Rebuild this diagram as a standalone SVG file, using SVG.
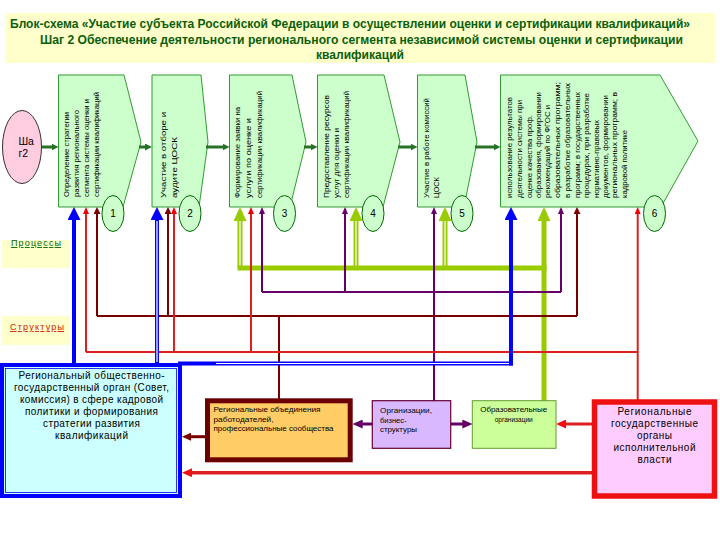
<svg xmlns="http://www.w3.org/2000/svg" width="720" height="540" viewBox="0 0 720 540">
<style>
.sans{font-family:"Liberation Sans",Arial,sans-serif}
.chev{fill:#ccffcc;stroke:#339933;stroke-width:1}
.num{fill:#ccffcc;stroke:#006600;stroke-width:1}
.numt{font-family:"Liberation Sans",Arial,sans-serif;font-size:10px;fill:#000;text-anchor:middle}
.vt{font-family:"Liberation Sans",Arial,sans-serif;font-size:7px;fill:#000}
.title{font-family:"Liberation Sans",Arial,sans-serif;font-size:12.5px;font-weight:bold;fill:#0b5e0b}
.bt{font-family:"Liberation Sans",Arial,sans-serif;font-size:10px;fill:#000;text-anchor:middle}
.st{font-family:"Liberation Sans",Arial,sans-serif;font-size:7.5px;fill:#000}
.ln{fill:none}
.blue{stroke:#0000ff;stroke-width:4}
.wh{stroke:#ffffff;stroke-width:1.2;fill:none}
.maroon{stroke:#7a0000;stroke-width:2}
.red{stroke:#dd1f1f;stroke-width:2}
.purple{stroke:#660066;stroke-width:2}
.green{stroke:#99cc00;stroke-width:5}
.flow{stroke:#267326;stroke-width:3}
</style>
<defs>
<marker id="mBlue" viewBox="0 0 13 13" markerWidth="13" markerHeight="13" refX="8" refY="6.5" orient="auto" markerUnits="userSpaceOnUse"><path d="M0,0 L13,6.5 L0,13z" fill="#0000ff"/></marker>
<marker id="mGreen" viewBox="0 0 14 13" markerWidth="14" markerHeight="13" refX="9" refY="6.5" orient="auto" markerUnits="userSpaceOnUse"><path d="M0,0 L14,6.5 L0,13z" fill="#99cc00"/></marker>
<marker id="mRed" viewBox="0 0 7 6" markerWidth="7" markerHeight="6" refX="2" refY="3" orient="auto" markerUnits="userSpaceOnUse"><path d="M0,0 L7,3 L0,6z" fill="#ee0000"/></marker>
<marker id="mPurple" viewBox="0 0 7 6" markerWidth="7" markerHeight="6" refX="2" refY="3" orient="auto" markerUnits="userSpaceOnUse"><path d="M0,0 L7,3 L0,6z" fill="#660066"/></marker>
<marker id="mMaroon" viewBox="0 0 7 7" markerWidth="7" markerHeight="7" refX="2" refY="3.5" orient="auto" markerUnits="userSpaceOnUse"><path d="M0,0 L7,3.5 L0,7z" fill="#7a0000"/></marker>
<marker id="mFlow" viewBox="0 0 7 7" markerWidth="7" markerHeight="7" refX="3" refY="3.5" orient="auto" markerUnits="userSpaceOnUse"><path d="M0,0 L7,3.5 L0,7z" fill="#267326"/></marker>
<marker id="mMaroonB" viewBox="0 0 9 8" markerWidth="9" markerHeight="8" refX="1" refY="4" orient="auto" markerUnits="userSpaceOnUse"><path d="M0,0 L9,4 L0,8z" fill="#7a0000"/></marker>
<marker id="mRedB" viewBox="0 0 10 9" markerWidth="10" markerHeight="9" refX="1" refY="4.5" orient="auto" markerUnits="userSpaceOnUse"><path d="M0,0 L10,4.5 L0,9z" fill="#ee1111"/></marker>
<marker id="mPurpleB" viewBox="0 0 10 9" markerWidth="10" markerHeight="9" refX="1" refY="4.5" orient="auto" markerUnits="userSpaceOnUse"><path d="M0,0 L10,4.5 L0,9z" fill="#660066"/></marker>
</defs>
<rect width="720" height="540" fill="#ffffff"/>

<g id="title">
<rect x="5" y="13" width="710" height="50" fill="#ffffcc"/>
<text class="title" x="10" y="28" textLength="680" lengthAdjust="spacingAndGlyphs">Блок-схема «Участие субъекта Российской Федерации в осуществлении оценки и сертификации квалификаций»</text>
<text class="title" x="40" y="44" textLength="643" lengthAdjust="spacingAndGlyphs">Шаг 2 Обеспечение деятельности регионального сегмента независимой системы оценки и сертификации</text>
<text class="title" x="360" y="59" text-anchor="middle" textLength="88" lengthAdjust="spacingAndGlyphs">квалификаций</text>
</g>

<g id="label-processes">
<rect x="2" y="240" width="68" height="28" fill="#ffffcc"/>
<text class="sans" x="11" y="246" font-size="9" fill="#006600" text-decoration="underline" textLength="50" lengthAdjust="spacing">Процессы</text>
</g>
<g id="label-structures">
<rect x="2" y="316" width="68" height="29" fill="#ffffcc"/>
<text class="sans" x="10" y="330" font-size="9" fill="#cc2200" text-decoration="underline" textLength="54" lengthAdjust="spacing">Структуры</text>
</g>

<g id="step">
<ellipse cx="22" cy="147" rx="19.5" ry="36.5" fill="#ffcce0" stroke="#333333" stroke-width="1"/>
<text class="sans" x="18.5" y="145" font-size="10.5" fill="#000">Ша</text>
<text class="sans" x="18.5" y="157" font-size="10.5" fill="#000">г2</text>
</g>

<g id="p1">
<path class="chev" d="M58.5,75 H124 L141,142 L123,207 H58.5 Z"/>
<text class="vt" transform="rotate(-90 69 197)" x="69" y="197" textLength="85" lengthAdjust="spacingAndGlyphs">Определение стратегии</text>
<text class="vt" transform="rotate(-90 79 197)" x="79" y="197" textLength="87" lengthAdjust="spacingAndGlyphs">развития регионального</text>
<text class="vt" transform="rotate(-90 89 197)" x="89" y="197" textLength="98" lengthAdjust="spacingAndGlyphs">сегмента системы оценки и</text>
<text class="vt" transform="rotate(-90 99 197)" x="99" y="197" textLength="105" lengthAdjust="spacingAndGlyphs">сертификации квалификаций</text>
<ellipse class="num" cx="113" cy="213.5" rx="11" ry="18"/>
<text class="numt" x="113" y="217">1</text>
</g>

<g id="p2">
<path class="chev" d="M152,75 H201 L208,142 L199,207 H152 Z"/>
<text class="vt" font-size="9" transform="rotate(-90 165.5 198)" x="165.5" y="198" textLength="86" lengthAdjust="spacingAndGlyphs">Участие в отборе и</text>
<text class="vt" font-size="9" transform="rotate(-90 176.5 198)" x="176.5" y="198" textLength="61" lengthAdjust="spacingAndGlyphs">аудите ЦОСК</text>
<ellipse class="num" cx="190" cy="213.5" rx="11" ry="18"/>
<text class="numt" x="190" y="217">2</text>
</g>

<g id="p3">
<path class="chev" d="M229.5,75 H292 L306,142 L290,207 H229.5 Z"/>
<text class="vt" transform="rotate(-90 239.5 198)" x="239.5" y="198" textLength="91" lengthAdjust="spacingAndGlyphs">Формирование заявки на</text>
<text class="vt" transform="rotate(-90 250.5 198)" x="250.5" y="198" textLength="80" lengthAdjust="spacingAndGlyphs">услуги по оценке и</text>
<text class="vt" transform="rotate(-90 261.5 198)" x="261.5" y="198" textLength="107" lengthAdjust="spacingAndGlyphs">сертификации квалификаций</text>
<ellipse class="num" cx="284.5" cy="213.5" rx="11" ry="18"/>
<text class="numt" x="284.5" y="217">3</text>
</g>

<g id="p4">
<path class="chev" d="M317.5,75 H384 L400,142 L383,207 H317.5 Z"/>
<text class="vt" transform="rotate(-90 329 198)" x="329" y="198" textLength="103" lengthAdjust="spacingAndGlyphs">Предоставление ресурсов</text>
<text class="vt" transform="rotate(-90 339 198)" x="339" y="198" textLength="70" lengthAdjust="spacingAndGlyphs">услуг для оценки и</text>
<text class="vt" transform="rotate(-90 349 198)" x="349" y="198" textLength="107" lengthAdjust="spacingAndGlyphs">сертификации квалификаций</text>
<ellipse class="num" cx="373" cy="213.5" rx="11" ry="18"/>
<text class="numt" x="373" y="217">4</text>
</g>

<g id="p5">
<path class="chev" d="M417.5,75 H465 L477,142 L464,207 H417.5 Z"/>
<text class="vt" font-size="7.5" transform="rotate(-90 429 198)" x="429" y="198" textLength="100" lengthAdjust="spacingAndGlyphs">Участие в работе комиссий</text>
<text class="vt" font-size="7.5" transform="rotate(-90 438.8 198)" x="438.8" y="198" textLength="21" lengthAdjust="spacingAndGlyphs">ЦОСК</text>
<ellipse class="num" cx="462" cy="213.5" rx="11" ry="18"/>
<text class="numt" x="462" y="217">5</text>
</g>

<g id="p6">
<path class="chev" d="M500.5,75 H660 L698,141 L661,207 H500.5 Z"/>
<text class="vt" transform="rotate(-90 511.5 198)" x="511.5" y="198" textLength="101" lengthAdjust="spacingAndGlyphs">использование результатов</text>
<text class="vt" transform="rotate(-90 521.5 198)" x="521.5" y="198" textLength="98" lengthAdjust="spacingAndGlyphs">деятельности системы при</text>
<text class="vt" transform="rotate(-90 531.5 198)" x="531.5" y="198" textLength="83" lengthAdjust="spacingAndGlyphs">оценке качества проф.</text>
<text class="vt" transform="rotate(-90 540.5 198)" x="540.5" y="198" textLength="106" lengthAdjust="spacingAndGlyphs">образования, формировании</text>
<text class="vt" transform="rotate(-90 549.5 198)" x="549.5" y="198" textLength="93" lengthAdjust="spacingAndGlyphs">рекомендаций по ФГОС и</text>
<text class="vt" transform="rotate(-90 559.5 198)" x="559.5" y="198" textLength="116" lengthAdjust="spacingAndGlyphs">образовательных программ;</text>
<text class="vt" transform="rotate(-90 569.5 198)" x="569.5" y="198" textLength="115" lengthAdjust="spacingAndGlyphs">в разработке образовательных</text>
<text class="vt" transform="rotate(-90 579.5 198)" x="579.5" y="198" textLength="106" lengthAdjust="spacingAndGlyphs">программ; в государственных</text>
<text class="vt" transform="rotate(-90 589 198)" x="589" y="198" textLength="105" lengthAdjust="spacingAndGlyphs">процедурах, при разработке</text>
<text class="vt" transform="rotate(-90 599 198)" x="599" y="198" textLength="78" lengthAdjust="spacingAndGlyphs">нормативно-правовых</text>
<text class="vt" transform="rotate(-90 608 198)" x="608" y="198" textLength="103" lengthAdjust="spacingAndGlyphs">документов, формировании</text>
<text class="vt" transform="rotate(-90 617.3 198)" x="617.3" y="198" textLength="106" lengthAdjust="spacingAndGlyphs">региональных программ; в</text>
<text class="vt" transform="rotate(-90 627.3 198)" x="627.3" y="198" textLength="68" lengthAdjust="spacingAndGlyphs">кадровой политике</text>
<ellipse class="num" cx="654.5" cy="213.5" rx="11" ry="18"/>
<text class="numt" x="654.5" y="217">6</text>
</g>

<g id="connectors">
<path class="ln flow" d="M42,147 H54.5" marker-end="url(#mFlow)"/>
<path class="ln flow" d="M139,147 H148" marker-end="url(#mFlow)"/>
<path class="ln flow" d="M206,147 H225.5" marker-end="url(#mFlow)"/>
<path class="ln flow" d="M304,147 H313.5" marker-end="url(#mFlow)"/>
<path class="ln flow" d="M398,147 H413.5" marker-end="url(#mFlow)"/>
<path class="ln flow" d="M475,147 H496.5" marker-end="url(#mFlow)"/>

<path class="ln green" d="M237.5,268 H546.5"/>
<path class="ln green" d="M240,268 V212" marker-end="url(#mGreen)"/>
<path class="ln green" d="M356,268 V212" marker-end="url(#mGreen)"/>
<path class="ln green" d="M445,268 V212" marker-end="url(#mGreen)"/>
<path class="ln green" d="M544,401 V212" marker-end="url(#mGreen)"/>
<path class="wh" d="M240,265.5 V221 M356,265.5 V221 M445,265.5 V221"/>

<path class="ln purple" d="M262,292 H561"/>
<path class="ln purple" d="M262,292 V212" marker-end="url(#mPurple)"/>
<path class="ln purple" d="M345,292 V212" marker-end="url(#mPurple)"/>
<path class="ln purple" d="M561,292 V212" marker-end="url(#mPurple)"/>
<path class="ln purple" d="M434,401 V212" marker-end="url(#mPurple)"/>

<path class="ln maroon" d="M97,316 H577"/>
<path class="ln maroon" d="M97,316 V212" marker-end="url(#mMaroon)"/>
<path class="ln maroon" d="M168,316 V212" marker-end="url(#mMaroon)"/>
<path class="ln maroon" d="M577,316 V212" marker-end="url(#mMaroon)"/>
<path class="ln maroon" d="M279,316 V399"/>

<path class="ln red" d="M86,352 H637.7"/>
<path class="ln red" d="M86,352 V212" marker-end="url(#mRed)"/>
<path class="ln red" d="M174,352 V212" marker-end="url(#mRed)"/>
<path class="ln red" d="M251,352 V212" marker-end="url(#mRed)"/>
<path class="ln red" d="M637.7,400 V212" marker-end="url(#mRed)"/>

<path class="ln blue" d="M178,363.5 H513"/>
<path class="ln blue" d="M74,364 V212" marker-end="url(#mBlue)"/>
<path class="ln blue" d="M157,364 V212" marker-end="url(#mBlue)"/>
<path class="ln blue" d="M511,365.5 V212" marker-end="url(#mBlue)"/>
<path class="wh" d="M157,362 V221 M216,363.5 H509"/>

<path class="ln" stroke="#7a0000" stroke-width="3" d="M205,436.7 H190" marker-end="url(#mMaroonB)"/>
<path class="ln" stroke="#dd1f1f" stroke-width="3.5" d="M592,472.7 H191" marker-end="url(#mRedB)"/>
<path class="ln" stroke="#dd1f1f" stroke-width="3" d="M592,424 H565" marker-end="url(#mRedB)"/>
<path class="ln" stroke="#660066" stroke-width="3" d="M372.3,424 H361.7" marker-end="url(#mPurpleB)"/>
<path class="ln" stroke="#660066" stroke-width="3" d="M450.7,424 H463.3" marker-end="url(#mPurpleB)"/>
</g>

<g id="s-council">
<rect x="2" y="365" width="178" height="131" fill="#ccffff" stroke="#0000ff" stroke-width="4"/>
<rect x="5.5" y="368.5" width="171" height="124" fill="none" stroke="#0000ff" stroke-width="0.8"/>
<text class="bt" x="91.5" y="378.5" textLength="146" lengthAdjust="spacing">Региональный общественно-</text>
<text class="bt" x="91.5" y="391" textLength="155" lengthAdjust="spacing">государственный орган (Совет,</text>
<text class="bt" x="91.5" y="403" textLength="143" lengthAdjust="spacing">комиссия) в сфере кадровой</text>
<text class="bt" x="91.5" y="414.5" textLength="133" lengthAdjust="spacing">политики и формирования</text>
<text class="bt" x="91.5" y="426.5" textLength="97" lengthAdjust="spacing">стратегии развития</text>
<text class="bt" x="91.5" y="438.5" textLength="73" lengthAdjust="spacing">квалификаций</text>
</g>

<g id="s-employers">
<rect x="207.5" y="400.8" width="142.7" height="59" fill="#ffcc66" stroke="#6b0000" stroke-width="5"/>
<text class="st" x="213.5" y="412" textLength="107" lengthAdjust="spacingAndGlyphs">Региональные объединения</text>
<text class="st" x="213.5" y="421.5" textLength="60" lengthAdjust="spacingAndGlyphs">работодателей,</text>
<text class="st" x="213.5" y="431" textLength="120" lengthAdjust="spacingAndGlyphs">профессиональные сообщества</text>
</g>

<g id="s-business">
<rect x="372.3" y="400.7" width="78.4" height="47.6" fill="#d9b8ff" stroke="#660033" stroke-width="1.2"/>
<text class="st" x="380" y="413" textLength="52" lengthAdjust="spacingAndGlyphs">Организации,</text>
<text class="st" x="380" y="422.5">бизнес-</text>
<text class="st" x="380" y="432" textLength="37" lengthAdjust="spacingAndGlyphs">структуры</text>
</g>

<g id="s-education">
<rect x="472.3" y="400.7" width="83.7" height="47.6" fill="#ccff99" stroke="#669933" stroke-width="1"/>
<text class="st" x="513.7" y="412" text-anchor="middle" textLength="67" lengthAdjust="spacingAndGlyphs">Образовательные</text>
<text class="st" x="513.7" y="421.5" text-anchor="middle" textLength="38" lengthAdjust="spacingAndGlyphs">организации</text>
</g>

<g id="s-executive">
<rect x="594.5" y="402" width="120" height="94" fill="#ffccff" stroke="#ee1111" stroke-width="5.5"/>
<text class="bt" x="654.5" y="415" textLength="74" lengthAdjust="spacing">Региональные</text>
<text class="bt" x="654.5" y="427" textLength="87" lengthAdjust="spacing">государственные</text>
<text class="bt" x="654.5" y="439" textLength="35" lengthAdjust="spacing">органы</text>
<text class="bt" x="654.5" y="451" textLength="82" lengthAdjust="spacing">исполнительной</text>
<text class="bt" x="654.5" y="463" textLength="34" lengthAdjust="spacing">власти</text>
</g>
</svg>
